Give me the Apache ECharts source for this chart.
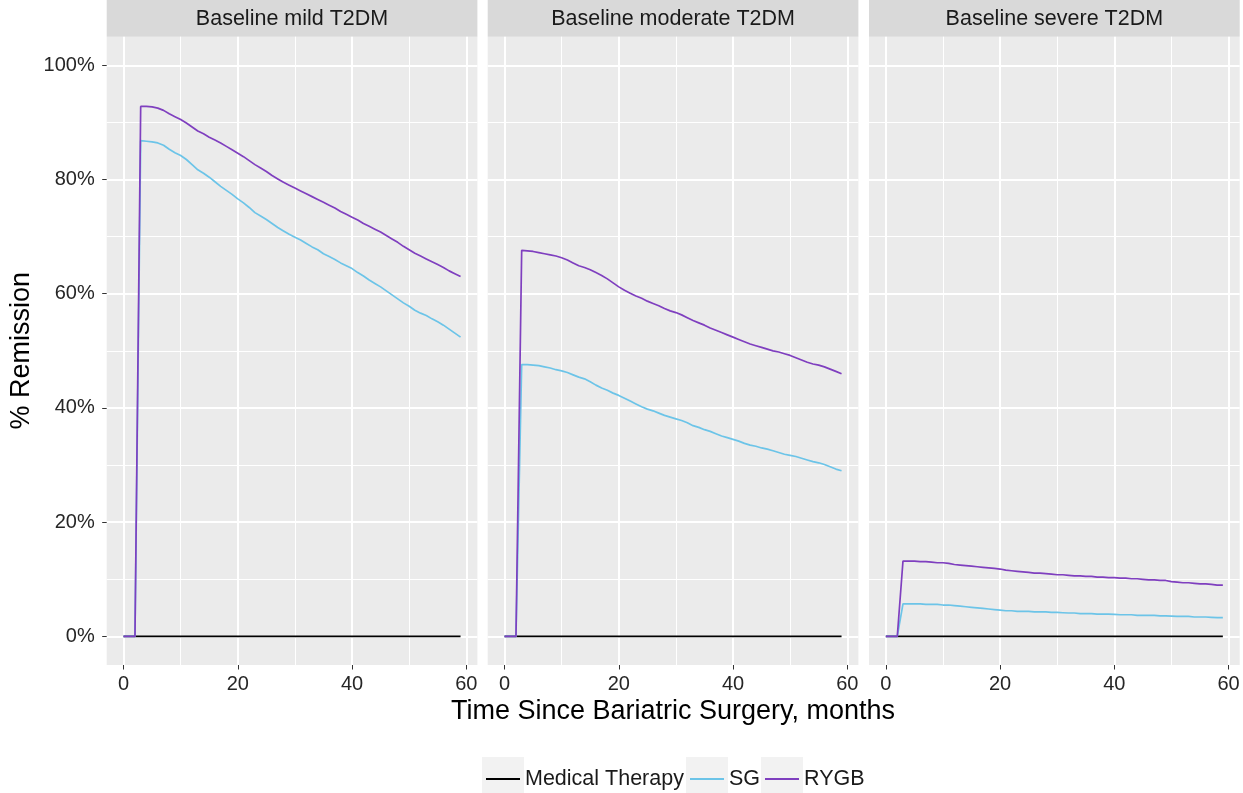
<!DOCTYPE html>
<html>
<head>
<meta charset="utf-8">
<script src="https://cdn.jsdelivr.net/npm/echarts@6/dist/echarts.min.js"></script>
<style>
html,body{margin:0;padding:0;background:#fff;}
#chart{width:1243px;height:793px;}
</style>
</head>
<body>
<div id="chart"></div>
<script>
// ---------- data ----------
const months = [0,1,2,3,4,5,6,7,8,9,10,11,12,13,14,15,16,17,18,19,20,21,22,23,24,25,26,27,28,29,30,31,32,33,34,35,36,37,38,39,40,41,42,43,44,45,46,47,48,49,50,51,52,53,54,55,56,57,58,59];
const panels = ['Baseline mild T2DM', 'Baseline moderate T2DM', 'Baseline severe T2DM'];
const groups = ['Medical Therapy', 'SG', 'RYGB'];
const xTicks = [0, 20, 40, 60];
const xMinor = [10, 30, 50];
const yTicks = [0, 20, 40, 60, 80, 100];
const yMinor = [10, 30, 50, 70, 90];

const medMild = [0,0,0,0,0,0,0,0,0,0,0,0,0,0,0,0,0,0,0,0,0,0,0,0,0,0,0,0,0,0,0,0,0,0,0,0,0,0,0,0,0,0,0,0,0,0,0,0,0,0,0,0,0,0,0,0,0,0,0,0];
const sgMild = [0,0,0,86.8,86.7,86.6,86.4,86.0,85.3,84.7,84.2,83.5,82.6,81.7,81.1,80.4,79.6,78.8,78.1,77.4,76.6,75.9,75.1,74.2,73.6,73.0,72.3,71.6,71.0,70.4,69.9,69.4,68.8,68.2,67.7,67.0,66.5,66.0,65.4,64.9,64.4,63.7,63.1,62.4,61.8,61.2,60.5,59.8,59.1,58.4,57.8,57.1,56.6,56.2,55.6,55.1,54.5,53.8,53.1,52.4];
const rygbMild = [0,0,0,92.8,92.8,92.7,92.5,92.1,91.5,91.0,90.5,89.9,89.2,88.5,88.0,87.4,86.9,86.4,85.8,85.2,84.6,84.0,83.3,82.6,82.0,81.4,80.7,80.1,79.5,79.0,78.5,78.0,77.5,77.0,76.5,76.0,75.5,75.0,74.4,73.9,73.4,72.9,72.3,71.8,71.3,70.8,70.2,69.6,69.0,68.3,67.7,67.1,66.6,66.1,65.6,65.1,64.6,64.0,63.5,63.0];

const medModerate = [0,0,0,0,0,0,0,0,0,0,0,0,0,0,0,0,0,0,0,0,0,0,0,0,0,0,0,0,0,0,0,0,0,0,0,0,0,0,0,0,0,0,0,0,0,0,0,0,0,0,0,0,0,0,0,0,0,0,0,0];
const sgModerate = [0,0,0,47.6,47.6,47.5,47.4,47.2,47.0,46.7,46.5,46.2,45.8,45.4,45.1,44.6,44.0,43.5,43.1,42.6,42.2,41.7,41.2,40.7,40.2,39.8,39.5,39.1,38.7,38.4,38.1,37.8,37.4,36.9,36.6,36.2,35.9,35.5,35.1,34.8,34.5,34.2,33.8,33.5,33.3,33.0,32.8,32.5,32.2,31.9,31.7,31.5,31.2,30.9,30.6,30.4,30.1,29.7,29.3,29.0];
const rygbModerate = [0,0,0,67.6,67.5,67.4,67.2,67.0,66.8,66.6,66.3,65.9,65.4,64.9,64.6,64.2,63.7,63.2,62.6,61.9,61.2,60.6,60.1,59.6,59.2,58.7,58.3,57.9,57.4,57.0,56.7,56.3,55.8,55.3,54.9,54.5,54.0,53.6,53.2,52.8,52.4,52.0,51.6,51.2,50.9,50.6,50.3,50.0,49.8,49.5,49.2,48.8,48.4,48.0,47.7,47.5,47.2,46.8,46.4,46.0];

const medSevere = [0,0,0,0,0,0,0,0,0,0,0,0,0,0,0,0,0,0,0,0,0,0,0,0,0,0,0,0,0,0,0,0,0,0,0,0,0,0,0,0,0,0,0,0,0,0,0,0,0,0,0,0,0,0,0,0,0,0,0,0];
const sgSevere = [0,0,0,5.7,5.7,5.7,5.7,5.6,5.6,5.6,5.5,5.5,5.4,5.3,5.2,5.1,5.0,4.9,4.8,4.7,4.6,4.5,4.5,4.4,4.4,4.4,4.3,4.3,4.3,4.2,4.2,4.15,4.1,4.1,4.0,4.0,4.0,3.9,3.9,3.9,3.85,3.8,3.8,3.8,3.7,3.7,3.7,3.7,3.6,3.6,3.55,3.5,3.5,3.5,3.4,3.4,3.4,3.35,3.3,3.3];
const rygbSevere = [0,0,0,13.2,13.2,13.2,13.1,13.1,13.0,12.9,12.9,12.8,12.6,12.5,12.4,12.3,12.2,12.1,12.0,11.9,11.8,11.6,11.5,11.4,11.3,11.2,11.1,11.1,11.0,10.9,10.8,10.8,10.7,10.6,10.6,10.5,10.5,10.4,10.4,10.3,10.3,10.2,10.2,10.1,10.1,10.0,9.9,9.9,9.8,9.8,9.6,9.5,9.4,9.4,9.3,9.2,9.2,9.1,9.0,9.0];

const panelData = [
  [medMild, sgMild, rygbMild],
  [medModerate, sgModerate, rygbModerate],
  [medSevere, sgSevere, rygbSevere]
];

// ---------- styling ----------
const FONT = '"Liberation Sans", Arial, Helvetica, sans-serif';
const groupColors = ['#000000', '#6CC4E8', '#7F3FBF'];
const gridLefts = [106.7, 487.7, 869];
const gridW = 370.7, gridTop = 36.7, gridH = 628.3;

const grids = [], xAxes = [], yAxes = [], series = [], graphics = [];

gridLefts.forEach((left, i) => {
  grids.push({left: left, top: gridTop, width: gridW, height: gridH, show: true,
    backgroundColor: '#EBEBEB', borderWidth: 0, containLabel: false});

  // major x axis
  xAxes.push({type: 'value', gridIndex: i, min: -2.95, max: 61.95, position: 'bottom',
    axisLine: {show: false, onZero: false},
    axisTick: {show: true, length: 4.5, lineStyle: {color: '#333333', width: 1}, customValues: xTicks},
    axisLabel: {show: true, customValues: xTicks, fontFamily: FONT, fontSize: 20, color: '#262626', margin: 9},
    splitLine: {show: true, lineStyle: {color: '#FFFFFF', width: 2}}
  });
  // minor x axis
  xAxes.push({type: 'value', gridIndex: i, min: -2.95, max: 61.95, position: 'bottom',
    axisLine: {show: false, onZero: false},
    axisTick: {show: false, customValues: xMinor},
    axisLabel: {show: false, customValues: xMinor},
    splitLine: {show: true, lineStyle: {color: '#FFFFFF', width: 1}}
  });
  // major y axis
  yAxes.push({type: 'value', gridIndex: i, min: -5, max: 105, position: 'left',
    axisLine: {show: false, onZero: false},
    axisTick: {show: i === 0, length: 4.5, lineStyle: {color: '#333333', width: 1}, customValues: yTicks},
    axisLabel: {show: i === 0, customValues: yTicks, formatter: v => v + '%', fontFamily: FONT, fontSize: 20, color: '#262626', margin: 12},
    splitLine: {show: true, lineStyle: {color: '#FFFFFF', width: 2}},
    name: i === 0 ? '% Remission' : '',
    nameLocation: 'middle',
    nameGap: 72,
    nameTextStyle: {fontFamily: FONT, fontSize: 27, color: '#000000'}
  });
  // minor y axis
  yAxes.push({type: 'value', gridIndex: i, min: -5, max: 105, position: 'left',
    axisLine: {show: false, onZero: false},
    axisTick: {show: false, customValues: yMinor},
    axisLabel: {show: false, customValues: yMinor},
    splitLine: {show: true, lineStyle: {color: '#FFFFFF', width: 1}}
  });

  groups.forEach((g, k) => {
    series.push({
      type: 'line', name: g, xAxisIndex: 2 * i, yAxisIndex: 2 * i,
      data: months.map((m, j) => [m, panelData[i][k][j]]),
      showSymbol: false, symbol: 'none',
      color: groupColors[k],
      lineStyle: {color: groupColors[k], width: 1.7},
      itemStyle: {color: groupColors[k]},
      z: 3 + k, silent: true
    });
  });

  // strip
  graphics.push({type: 'rect', shape: {x: left, y: 0, width: gridW, height: gridTop},
    style: {fill: '#D9D9D9'}, z: 0});
  graphics.push({type: 'text', x: left + gridW / 2, y: 19,
    style: {text: panels[i], fill: '#1A1A1A', font: '21.5px ' + FONT, textAlign: 'center', textVerticalAlign: 'middle'}, z: 1});
});

// x axis title
graphics.push({type: 'text', x: 673, y: 712,
  style: {text: 'Time Since Bariatric Surgery, months', fill: '#000000', font: '27px ' + FONT, textAlign: 'center', textVerticalAlign: 'middle'}});

// legend key backgrounds
const keyLefts = [482, 686, 761];
keyLefts.forEach(x => {
  graphics.push({type: 'rect', shape: {x: x, y: 757, width: 42, height: 42}, style: {fill: '#F2F2F2'}, z: 0});
});

const legends = groups.map((g, k) => ({
  data: [g], left: keyLefts[k] + 4, top: 768, padding: 0,
  icon: 'rect', itemWidth: 34, itemHeight: 2, itemGap: 0,
  selectedMode: false,
  textStyle: {fontFamily: FONT, fontSize: 21.5, color: '#1A1A1A'}
}));

const chart = echarts.init(document.getElementById('chart'), null, {renderer: 'canvas'});
chart.setOption({
  animation: false,
  backgroundColor: '#FFFFFF',
  grid: grids,
  xAxis: xAxes,
  yAxis: yAxes,
  legend: legends,
  graphic: graphics,
  series: series
});
</script>
</body>
</html>
